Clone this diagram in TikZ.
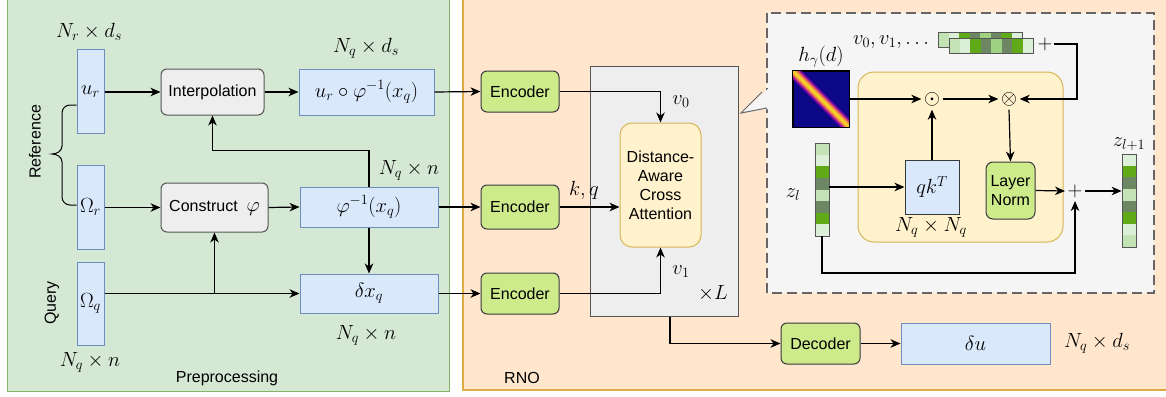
\RequirePackage{fix-cm}
\documentclass[tikz,border=0pt]{standalone}
\usepackage[no-math]{fontspec}
\newfontfamily\lsans{Liberation Sans}
\usetikzlibrary{arrows.meta,calc}
\definecolor{pGreenF}{HTML}{D5E8D4}
\definecolor{pGreenB}{HTML}{82B366}
\definecolor{pOrF}{HTML}{FFE6CC}
\definecolor{pOrB}{HTML}{DDAA44}
\definecolor{bFill}{HTML}{DAE8FC}
\definecolor{bBorder}{HTML}{6C8EBF}
\definecolor{gFill}{HTML}{EEEEEE}
\definecolor{gBorder}{HTML}{555555}
\definecolor{eFill}{HTML}{CDEB8B}
\definecolor{eBorder}{HTML}{36393D}
\definecolor{yFill}{HTML}{FFF2CC}
\definecolor{yBorder}{HTML}{D6B656}
\definecolor{dFill}{HTML}{F5F5F5}
\definecolor{dBorder}{HTML}{666666}
\definecolor{lgA}{HTML}{C3E3B5}
\definecolor{lgB}{HTML}{DCEFD8}
\definecolor{gG}{HTML}{60A917}
\definecolor{gD}{HTML}{6D8764}
\definecolor{gL}{HTML}{9ED281}
\definecolor{hNavy}{HTML}{0D0887}
\definecolor{hPurp}{HTML}{7E03A8}
\definecolor{hMag}{HTML}{CC4778}
\definecolor{hOr}{HTML}{F89540}
\definecolor{hYel}{HTML}{F0F921}
\begin{document}
\begin{tikzpicture}[x=1pt,y=-1pt,
 arr/.style={line width=1.2pt,-{Stealth[length=10pt,width=8.5pt,inset=3pt]}},
 txt/.style={font=\lsans\fontsize{16}{19}\selectfont,align=center},
 mth/.style={font=\fontsize{20.5}{23}\selectfont},
 bluebox/.style={draw=bBorder,fill=bFill,line width=1pt,inner sep=0pt,mth},
 graybox/.style={draw=gBorder,fill=gFill,line width=1pt,rounded corners=6pt,inner sep=0pt,txt},
 encbox/.style={draw=eBorder,fill=eFill,line width=1pt,rounded corners=6pt,inner sep=0pt,txt},
 yelbox/.style={draw=yBorder,fill=yFill,line width=1pt,inner sep=0pt,txt},
 stripbox/.style={draw=gBorder,line width=0.8pt,inner sep=0pt},
 opnode/.style={circle,inner sep=0pt,minimum size=17pt,mth}]
\useasboundingbox (0,0) rectangle (1166,396);
% panels
\draw[pGreenB,fill=pGreenF,line width=1pt] (7,-3) rectangle (449,391);
\draw[pOrB,fill=pOrF,line width=1.2pt] (463,-3) rectangle (1172,390);
\node[txt] (prep) at (227,378) {Preprocessing};
\node[txt] (rno) at (522,378) {RNO};
% preprocessing nodes
\node[bluebox,minimum width=27pt,minimum height=83pt] (ur) at (90.5,91.5) {$u_r$};
\node[bluebox,minimum width=27pt,minimum height=84pt] (Or) at (90.5,207) {$\Omega_r$};
\node[bluebox,minimum width=27pt,minimum height=83pt] (Oq) at (90.5,303.5) {$\Omega_q$};
\node[mth] (lur) at (89,32) {$N_r\times d_s$};
\node[mth] (loq) at (90,362) {$N_q\times n$};
\node[txt,rotate=90] (lref) at (35,142) {Reference};
\node[txt,rotate=90] (lq) at (52,303) {Query};
\draw[line width=1pt] (ur.west |- 0,105) -- (70,105) to[out=180,in=90] (62,113) -- (62,146)
  to[out=270,in=0] (52,154) to[out=0,in=90] (62,162) -- (62,197) to[out=270,in=180] (70,205) -- (Or.west |- 0,205);
\node[graybox,minimum width=103pt,minimum height=46pt] (interp) at (212.5,92) {Interpolation};
\node[graybox,minimum width=107pt,minimum height=49pt] (constr) at (214.5,207.5) {Construct\ \ {\fontsize{20.5}{23}\selectfont$\varphi$}};
\node[bluebox,minimum width=135pt,minimum height=46pt] (urphi) at (366.5,92) {$u_r\circ\varphi^{-1}(x_q)$};
\node[bluebox,minimum width=138pt,minimum height=40pt] (phi) at (369,207) {$\varphi^{-1}(x_q)$};
\node[bluebox,minimum width=138pt,minimum height=39pt] (dx) at (369,293.5) {$\delta x_q$};
\node[mth] (lurphi) at (366,48) {$N_q\times d_s$};
\node[mth] (lphi) at (409,170) {$N_q\times n$};
\node[mth] (ldx) at (366,335) {$N_q\times n$};
\draw[arr] (ur.east |- interp.west) -- (interp.west);
\draw[arr] (interp.east) -- (urphi.west);
\draw[arr] (Or.east |- constr.west) -- (constr.west);
\draw[arr] (constr.east) -- (phi.west);
\draw[arr] (phi.north) |- ([yshift=-35pt]interp.south) -- (interp.south);
\draw[arr] (phi.south) -- (dx.north);
\draw[arr] (Oq.east |- dx.west) -- (dx.west);
\draw[arr] (constr.south |- dx.west) -- (constr.south);
% RNO nodes
\node[encbox,minimum width=78pt,minimum height=41pt] (enc1) at (520,91.5) {Encoder};
\node[encbox,minimum width=78pt,minimum height=44pt] (enc2) at (520,207) {Encoder};
\node[encbox,minimum width=78pt,minimum height=41pt] (enc3) at (520,293.5) {Encoder};
\draw[arr] (urphi.east) -- (enc1.west);
\draw[arr] (phi.east) -- (enc2.west);
\draw[arr] (dx.east) -- (enc3.west);
\node[draw=gBorder,fill=gFill,line width=1pt,minimum width=148pt,minimum height=250pt,inner sep=0pt] (layer) at (664,191) {};
\node[yelbox,rounded corners=12pt,minimum width=81pt,minimum height=124pt] (daca) at (660.5,185) {Distance-\\Aware\\Cross\\Attention};
\draw[arr] (enc1.east) -| (daca.north);
\draw[arr] (enc2.east) -- (enc2.east -| daca.west);
\draw[arr] (enc3.east) -| (daca.south);
\node[mth] (lv0) at (681,102) {$v_0$};
\node[mth] (lv1) at (681,272) {$v_1$};
\node[mth] (lkq) at (584,190) {$k,q$};
\node[mth] (lL) at (713,293) {$\times L$};
\node[encbox,minimum width=79pt,minimum height=41pt] (dec) at (820.5,343.5) {Decoder};
\node[bluebox,minimum width=149pt,minimum height=41pt] (du) at (975.5,343.5) {$\delta u$};
\node[mth] (ldu) at (1097,343) {$N_q\times d_s$};
\draw[arr] ([xshift=6pt]layer.south) |- (dec.west);
\draw[arr] (dec.east) -- (du.west);
% zoom-in panel
\draw[dBorder,fill=dFill,line width=1.4pt,dash pattern=on 10pt off 5pt] (767,13) rectangle (1154,293);
\fill[dFill] (769,88) -- (741,113) -- (769,109) -- cycle;
\draw[dBorder,line width=1pt] (762,92) -- (741,113) -- (767,108);
\node[yelbox,rounded corners=16pt,minimum width=205pt,minimum height=170pt] (inner) at (960.5,157) {};
% heatmap
\node[draw=black,line width=0.8pt,fill=hNavy,minimum size=56pt,inner sep=0pt] (heat) at (821,99) {};
\begin{scope}
\clip (793,71) rectangle (849,127);
\draw[hPurp,line width=12pt] (789,67) -- (853,131);
\draw[hMag,line width=8.5pt] (789,67) -- (853,131);
\draw[hOr,line width=5.5pt] (789,67) -- (853,131);
\draw[hYel!60!hOr,line width=2.5pt] (789,67) -- (853,131);
\end{scope}
\draw[black,line width=0.8pt] (heat.north west) rectangle (heat.south east);
\node[mth] (lh) at (821,57) {$h_\gamma(d)$};
% value vectors
\foreach \c [count=\i from 0] in {lgA,lgB,gG,gD,gL,gD,gG,lgB}
  \fill[\c] (938+\i*10.5,32) rectangle ++(10.5,15);
\node[stripbox,minimum width=84pt,minimum height=15pt] (vb) at (980,39.5) {};
\foreach \c [count=\i from 0] in {lgA,lgB,gG,gD,gL,gD,gG,lgB}
  \fill[\c] (949+\i*10.5,38) rectangle ++(10.5,15);
\node[stripbox,minimum width=84pt,minimum height=15pt] (vf) at (991,45.5) {};
\node[mth] (lv) at (891,42) {$v_0,v_1,\ldots$};
\node[mth,inner sep=1pt] (pv) at (1045,44) {$+$};
\coordinate (vcorner) at (1077,44);
% operators
\node[opnode] (odot) at (932,99) {$\odot$};
\node[opnode] (otimes) at (1009,99) {$\otimes$};
\node[bluebox,draw=eBorder,minimum width=54pt,minimum height=54pt] (qk) at (932,187) {$qk^T$};
\node[mth] (lqk) at (931,227) {$N_q\times N_q$};
\node[encbox,rounded corners=7pt,minimum width=49pt,minimum height=57pt] (lnorm) at (1010.5,190.5) {Layer\\Norm};
\node[opnode] (plus) at (1075,191) {$+$};
% z strips
\foreach \c [count=\i from 0] in {lgA,lgB,gG,gD,lgA,gD,gG,lgB}
  \fill[\c] (815,143+\i*11.625) rectangle ++(14,11.625);
\node[stripbox,minimum width=14pt,minimum height=93pt] (zl) at (822,189.5) {};
\foreach \c [count=\i from 0] in {lgB,gG,gD,lgA,gD,gG,lgB,lgA}
  \fill[\c] (1122,154+\i*11.625) rectangle ++(14,11.625);
\node[stripbox,minimum width=14pt,minimum height=93pt] (zl1) at (1129,200.5) {};
\node[mth] (lzl) at (793,195) {$z_l$};
\node[mth] (lzl1) at (1129,144) {$z_{l+1}$};
% inner connectors
\draw[arr] (heat.east) -- (odot.west);
\draw[arr] (odot.east) -- (otimes.west);
\draw[arr] (qk.north) -- (odot.south);
\draw[arr] (otimes.south) -- (lnorm.north);
\draw[arr] (pv.east) -- (vcorner) |- (otimes.east);
\draw[arr] (zl.east |- qk.west) -- (qk.west);
\draw[arr] (lnorm.east) -- (plus.west);
\draw[arr] (plus.east) -- (plus -| zl1.west);
\draw[arr] (zl.south) |- ([yshift=-72pt]plus.south) -- (plus.south);
\end{tikzpicture}
\end{document}
